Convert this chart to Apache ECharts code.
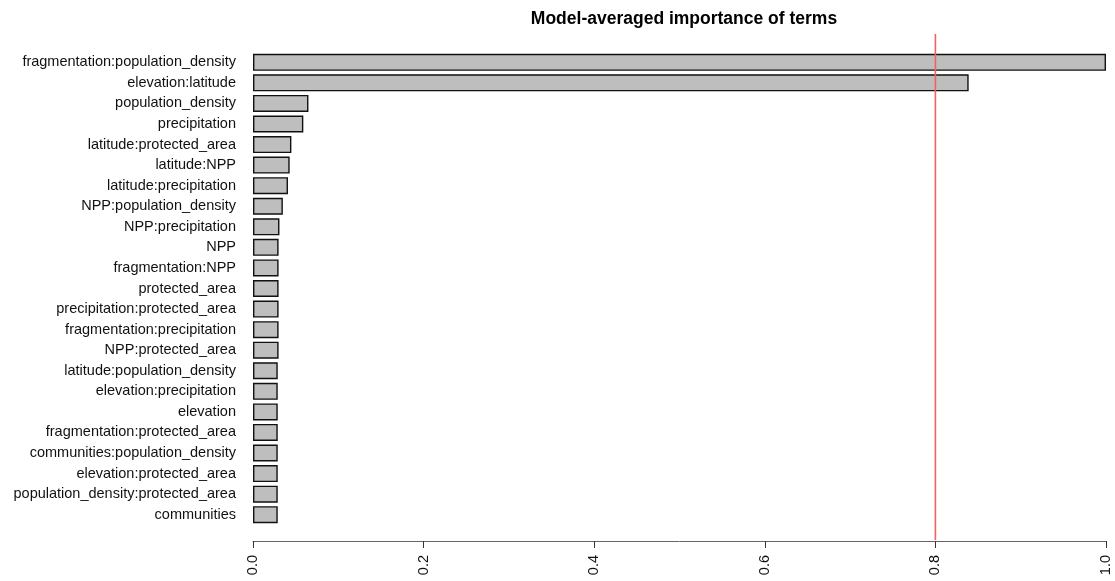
<!DOCTYPE html>
<html>
<head>
<meta charset="utf-8">
<script src="https://cdn.jsdelivr.net/npm/echarts@6/dist/echarts.min.js"></script>
<style>
  html, body { margin: 0; padding: 0; background: #ffffff; }
  #chart { width: 1115px; height: 581px; }
</style>
</head>
<body>
<div id="chart"></div>
<script>
// Terms, ordered from most to least important (top to bottom)
const terms = [
  'fragmentation:population_density',
  'elevation:latitude',
  'population_density',
  'precipitation',
  'latitude:protected_area',
  'latitude:NPP',
  'latitude:precipitation',
  'NPP:population_density',
  'NPP:precipitation',
  'NPP',
  'fragmentation:NPP',
  'protected_area',
  'precipitation:protected_area',
  'fragmentation:precipitation',
  'NPP:protected_area',
  'latitude:population_density',
  'elevation:precipitation',
  'elevation',
  'fragmentation:protected_area',
  'communities:population_density',
  'elevation:protected_area',
  'population_density:protected_area',
  'communities'
];

// Summed model weights for each term
const importance = [
  1.000, 0.839, 0.065, 0.059, 0.045, 0.043, 0.041, 0.035, 0.031, 0.030,
  0.030, 0.030, 0.030, 0.030, 0.030, 0.029, 0.029, 0.029, 0.029, 0.029,
  0.029, 0.029, 0.029
];

// Importance threshold
const threshold = 0.8;

// x-axis ticks
const xTicks = [0, 0.2, 0.4, 0.6, 0.8, 1.0];

const font = '"Liberation Sans", Arial, sans-serif';
const chart = echarts.init(document.getElementById('chart'), null, { renderer: 'canvas' });

chart.setOption({
  animation: false,
  backgroundColor: '#ffffff',
  title: {
    text: 'Model-averaged importance of terms',
    left: 679,
    top: 5,
    textAlign: 'center',
    textStyle: { fontFamily: font, fontSize: 17.5, fontWeight: 'bold', color: '#000' }
  },
  grid: [
    { left: 253, right: 9, top: 52, bottom: 56, containLabel: false },
    { left: 253, right: 9, top: 34, bottom: 41, containLabel: false }
  ],
  xAxis: [
    {
      gridIndex: 0,
      type: 'value',
      min: 0,
      max: 1,
      interval: 0.2,
      offset: 16,
      splitLine: { show: false },
      axisLine: { show: true, lineStyle: { color: '#666', width: 1 } },
      axisTick: { show: true, length: 7, lineStyle: { color: '#333', width: 1 } },
      axisLabel: {
        rotate: 90,
        margin: 14,
        fontFamily: font,
        fontSize: 14.5,
        color: '#111',
        formatter: v => xTicks.some(t => Math.abs(t - v) < 1e-9) ? v.toFixed(1) : ''
      }
    },
    {
      gridIndex: 1,
      type: 'value',
      min: 0,
      max: 1,
      show: false
    }
  ],
  yAxis: [
    {
      gridIndex: 0,
      type: 'category',
      data: terms,
      inverse: true,
      axisLine: { show: false },
      axisTick: { show: false },
      splitLine: { show: false },
      axisLabel: {
        margin: 17,
        fontFamily: font,
        fontSize: 14.5,
        color: '#111',
        padding: [5, 0, 0, 0]
      }
    },
    {
      gridIndex: 1,
      type: 'value',
      min: 0,
      max: 1,
      show: false
    }
  ],
  series: [
    {
      type: 'bar',
      xAxisIndex: 0,
      yAxisIndex: 0,
      data: importance,
      barWidth: 17,
      itemStyle: { color: '#bebebe', borderColor: '#111', borderWidth: 1.4 },
      silent: true
    },
    {
      type: 'line',
      xAxisIndex: 1,
      yAxisIndex: 1,
      data: [[threshold, 0], [threshold, 1]],
      symbol: 'none',
      lineStyle: { color: '#f45f5f', width: 1.6 },
      silent: true
    }
  ]
});
</script>
</body>
</html>
